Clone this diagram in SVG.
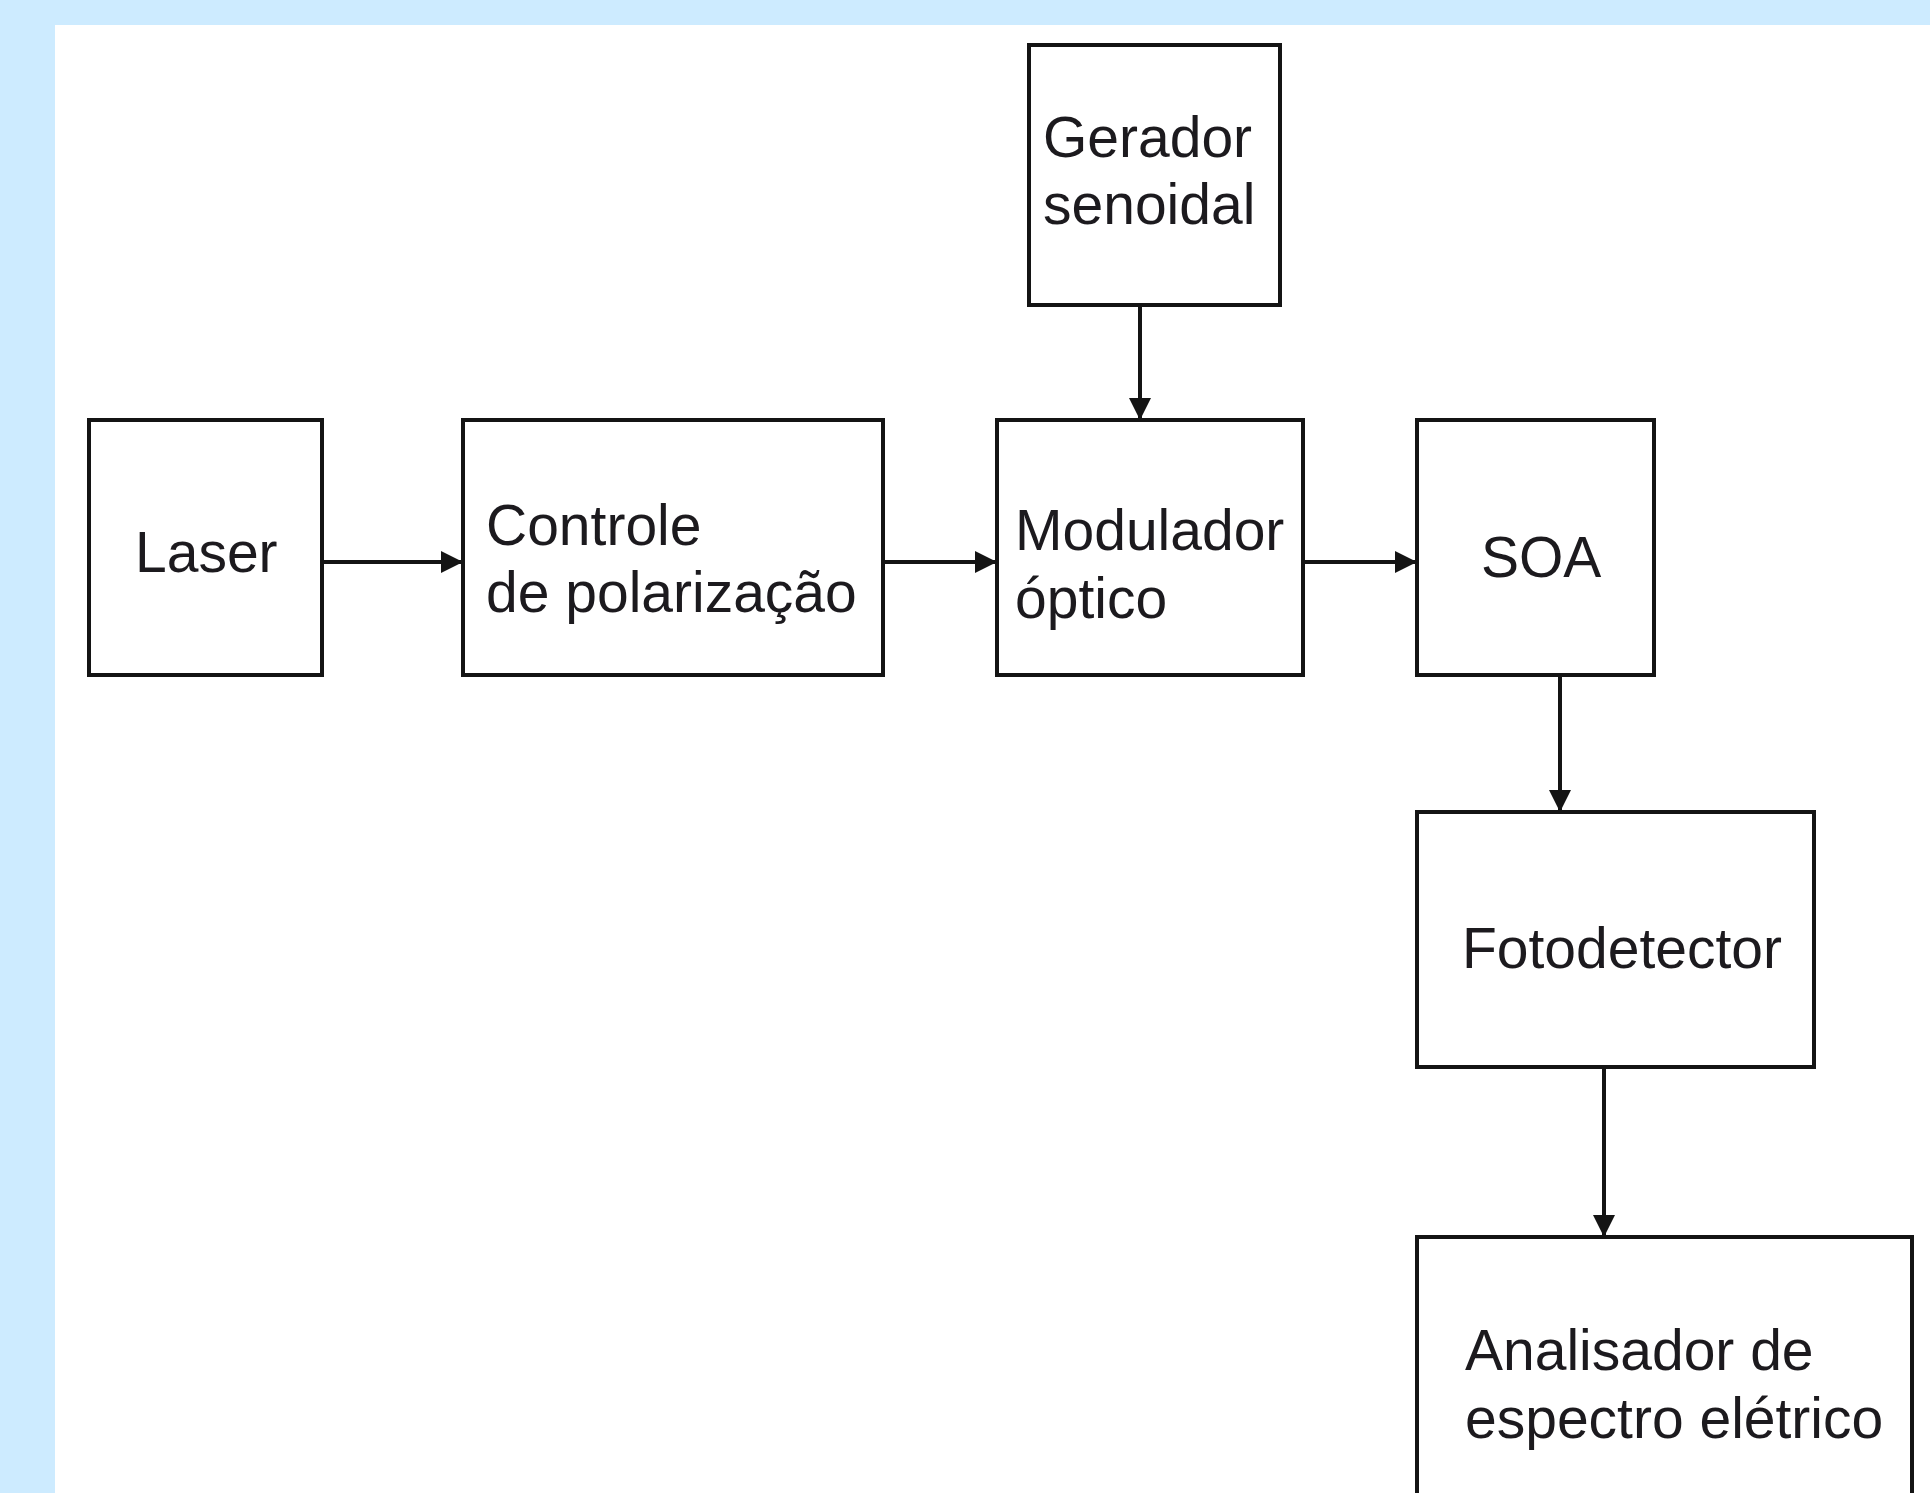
<svg xmlns="http://www.w3.org/2000/svg" width="1930" height="1493" viewBox="0 0 1930 1493">
<defs>
<style>
.box{fill:#ffffff;stroke:#141414;stroke-width:4}
.lbl{font-family:"Liberation Sans",Arial,sans-serif;font-size:57px;fill:#1c1a1e}
.conn{stroke:#141414;stroke-width:4;fill:none}
</style>
<marker id="arr" markerUnits="userSpaceOnUse" markerWidth="26" markerHeight="24" refX="22" refY="11" orient="auto">
<path d="M0,0 L22,11 L0,22 Z" fill="#141414"/>
</marker>
</defs>
<rect x="0" y="0" width="1930" height="1493" fill="#cdebff"/>
<rect x="55" y="25" width="1875" height="1468" fill="#ffffff"/>
<g id="connectors">
<line class="conn" x1="322" y1="562" x2="463" y2="562" marker-end="url(#arr)"/>
<line class="conn" x1="883" y1="562" x2="997" y2="562" marker-end="url(#arr)"/>
<line class="conn" x1="1140" y1="305" x2="1140" y2="420" marker-end="url(#arr)"/>
<line class="conn" x1="1303" y1="562" x2="1417" y2="562" marker-end="url(#arr)"/>
<line class="conn" x1="1560" y1="675" x2="1560" y2="812" marker-end="url(#arr)"/>
<line class="conn" x1="1604" y1="1067" x2="1604" y2="1237" marker-end="url(#arr)"/>
</g>
<g id="gerador">
<rect class="box" x="1029" y="45" width="251" height="260"/>
<text class="lbl" x="1043" y="157">Gerador</text>
<text class="lbl" x="1043" y="224">senoidal</text>
</g>
<g id="laser">
<rect class="box" x="89" y="420" width="233" height="255"/>
<text class="lbl" x="135" y="572">Laser</text>
</g>
<g id="controle">
<rect class="box" x="463" y="420" width="420" height="255"/>
<text class="lbl" x="486" y="545">Controle</text>
<text class="lbl" x="486" y="612">de polarização</text>
</g>
<g id="modulador">
<rect class="box" x="997" y="420" width="306" height="255"/>
<text class="lbl" x="1015" y="550">Modulador</text>
<text class="lbl" x="1015" y="618">óptico</text>
</g>
<g id="soa">
<rect class="box" x="1417" y="420" width="237" height="255"/>
<text class="lbl" x="1481" y="577">SOA</text>
</g>
<g id="fotodetector">
<rect class="box" x="1417" y="812" width="397" height="255"/>
<text class="lbl" x="1462" y="968">Fotodetector</text>
</g>
<g id="analisador">
<rect class="box" x="1417" y="1237" width="495" height="300"/>
<text class="lbl" x="1465" y="1370">Analisador de</text>
<text class="lbl" x="1465" y="1438">espectro elétrico</text>
</g>
</svg>
